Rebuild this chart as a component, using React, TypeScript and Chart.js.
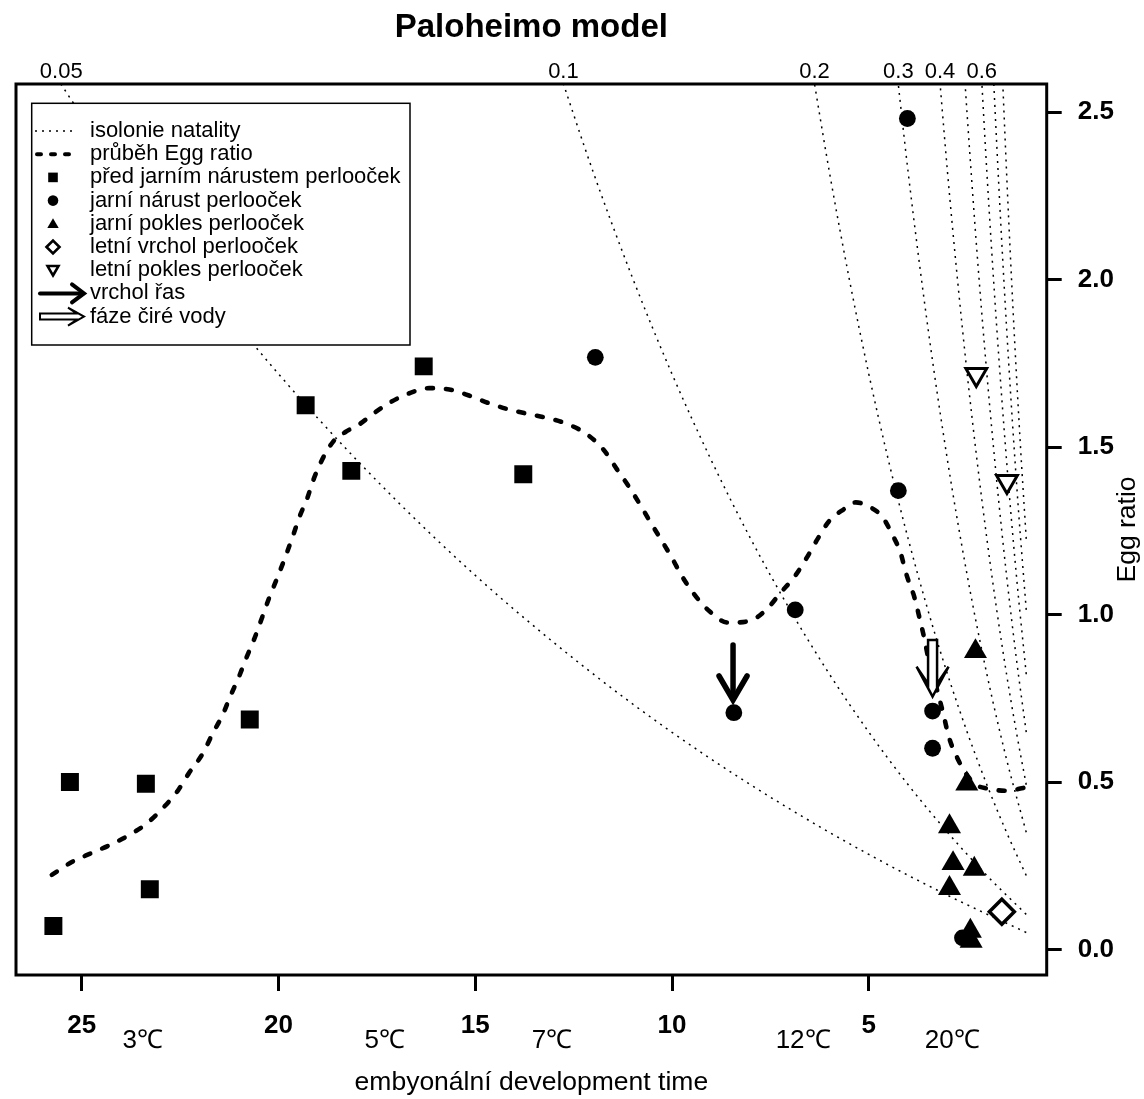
import { useEffect, useRef } from 'react';
import { Chart, registerables } from 'chart.js';

Chart.register(...registerables);

const FONT = "'Liberation Sans', Arial, Helvetica, sans-serif";

// ---- axes ----
const xTickValues = [25, 20, 15, 10, 5];
const yTickValues = [0, 0.5, 1, 1.5, 2, 2.5];
const xMin = 0.48;
const xMax = 26.67;
const yMin = -0.076;
const yMax = 2.584;

// labels of natality isolines (top edge) and temperature labels (bottom)
const topLabelText = ['0.05', '0.1', '0.2', '0.3', '0.4', '0.6'];
const topLabelD = [25.52, 12.76, 6.38, 4.25, 3.19, 2.13];
const tempLabelText = ['3℃', '5℃', '7℃', '12℃', '20℃'];
const tempLabelD = [23.45, 17.3, 13.05, 6.67, 2.88];

// ---- observations ----
const squareD = [25.72, 25.3, 23.37, 23.27, 20.73, 19.31, 18.15, 16.31, 13.78];
const squareE = [0.07, 0.5, 0.495, 0.18, 0.687, 1.625, 1.429, 1.741, 1.419];

const circleD = [11.95, 6.87, 8.43, 3.38, 3.38, 4.02, 4.25, 2.62];
const circleE = [1.768, 1.014, 0.707, 0.712, 0.601, 2.481, 1.37, 0.035];

const triUpD = [2.29, 2.51, 2.95, 2.86, 2.32, 2.95, 2.42, 2.4];
const triUpE = [0.89, 0.495, 0.367, 0.257, 0.24, 0.183, 0.055, 0.025];

const triDownD = [2.27, 1.49];
const triDownE = [1.717, 1.397];

const diamondD = [1.62];
const diamondE = [0.113];

// ---- Egg ratio course (dashed) ----
const trendD = [25.76, 25.24, 24.73, 24.25, 23.79, 23.34, 22.9, 22.56, 22.28, 21.92, 21.67, 21.42, 21.23, 21.02, 20.83, 20.62, 20.43, 20.24, 20.03, 19.84, 19.63, 19.46, 19.27, 19.12, 18.91, 18.62, 18.3, 17.96, 17.54, 17.14, 16.69, 16.17, 15.66, 15.16, 14.65, 14.14, 13.62, 13.13, 12.62, 12.16, 11.74, 11.39, 11.08, 10.8, 10.56, 10.29, 10.03, 9.75, 9.42, 9.04, 8.58, 8.03, 7.61, 7.25, 6.89, 6.55, 6.3, 6.01, 5.63, 5.33, 5.08, 4.66, 4.4, 4.19, 4.07, 3.96, 3.85, 3.73, 3.6, 3.47, 3.3, 3.1, 2.97, 2.76, 2.5, 2.25, 2.0, 1.53, 1.0];
const trendE = [0.223, 0.262, 0.289, 0.314, 0.342, 0.377, 0.427, 0.474, 0.526, 0.586, 0.646, 0.7, 0.755, 0.81, 0.867, 0.926, 0.987, 1.049, 1.11, 1.168, 1.236, 1.294, 1.347, 1.4, 1.458, 1.515, 1.545, 1.567, 1.604, 1.635, 1.66, 1.676, 1.672, 1.654, 1.631, 1.612, 1.598, 1.586, 1.567, 1.538, 1.492, 1.432, 1.379, 1.326, 1.278, 1.226, 1.175, 1.115, 1.058, 1.009, 0.976, 0.981, 1.014, 1.064, 1.113, 1.175, 1.226, 1.279, 1.315, 1.335, 1.327, 1.292, 1.238, 1.183, 1.13, 1.09, 1.055, 0.999, 0.934, 0.86, 0.79, 0.7, 0.636, 0.574, 0.52, 0.49, 0.481, 0.474, 0.484];

// ---- natality isolines ----
const isoRates = [0.05, 0.1, 0.2, 0.3, 0.4, 0.5, 0.6, 0.7, 0.8];
const iso005D = [1, 3, 5, 7, 9, 11, 13, 15, 17, 19, 21, 23, 25, 26];
const iso005E = [0.051, 0.162, 0.284, 0.419, 0.568, 0.733, 0.916, 1.117, 1.34, 1.586, 1.858, 2.158, 2.49, 2.669];
const iso01D = [1, 2, 3, 4, 5, 6, 7, 8, 9, 10, 11, 12, 13];
const iso01E = [0.105, 0.221, 0.35, 0.492, 0.649, 0.822, 1.014, 1.226, 1.46, 1.718, 2.004, 2.32, 2.669];
const iso02D = [1, 1.5, 2, 2.5, 3, 3.5, 4, 4.5, 5, 5.5, 6, 6.5];
const iso02E = [0.221, 0.35, 0.492, 0.649, 0.822, 1.014, 1.226, 1.46, 1.718, 2.004, 2.32, 2.669];
const iso03D = [1, 1.5, 2, 2.5, 3, 3.5, 4, 4.4];
const iso03E = [0.35, 0.568, 0.822, 1.117, 1.46, 1.858, 2.32, 2.743];
const iso04D = [1, 1.25, 1.5, 1.75, 2, 2.25, 2.5, 2.75, 3, 3.3];
const iso04E = [0.492, 0.649, 0.822, 1.014, 1.226, 1.46, 1.718, 2.004, 2.32, 2.743];
const iso05D = [1, 1.25, 1.5, 1.75, 2, 2.25, 2.5, 2.65];
const iso05E = [0.649, 0.868, 1.117, 1.399, 1.718, 2.08, 2.49, 2.762];
const iso06D = [1, 1.25, 1.5, 1.75, 2, 2.2];
const iso06E = [0.822, 1.117, 1.46, 1.858, 2.32, 2.743];
const iso07D = [1, 1.2, 1.4, 1.6, 1.8, 1.9];
const iso07E = [1.014, 1.316, 1.665, 2.065, 2.525, 2.781];
const iso08D = [1, 1.15, 1.3, 1.45, 1.6, 1.7];
const iso08E = [1.226, 1.509, 1.829, 2.19, 2.597, 2.896];
const isoD = [iso005D, iso01D, iso02D, iso03D, iso04D, iso05D, iso06D, iso07D, iso08D];
const isoE = [iso005E, iso01E, iso02E, iso03E, iso04E, iso05E, iso06E, iso07E, iso08E];

// ---- arrows (algae peak = solid, clear water phase = hollow) ----
const arrowD = [8.45, 3.38];
const arrowFromE = [0.909, 0.924];
const arrowToE = [0.745, 0.755];
const arrowHollow = [false, true];

const legendLabels = [
  'isolonie natality',
  'průběh Egg ratio',
  'před jarním nárustem perlooček',
  'jarní nárust perlooček',
  'jarní pokles perlooček',
  'letní vrchol perlooček',
  'letní pokles perlooček',
  'vrchol řas',
  'fáze čiré vody',
];

const pts = (xs: number[], ys: number[]) => xs.map((x, i) => ({ x, y: ys[i] }));

function triPath(ctx: CanvasRenderingContext2D, x: number, y: number, r: number, down: boolean) {
  const s = down ? -1 : 1;
  const h = (r * Math.sqrt(3)) / 2;
  ctx.beginPath();
  ctx.moveTo(x, y - s * r);
  ctx.lineTo(x + h, y + (s * r) / 2);
  ctx.lineTo(x - h, y + (s * r) / 2);
  ctx.closePath();
}

function drawArrow(
  ctx: CanvasRenderingContext2D,
  x1: number, y1: number, x2: number, y2: number,
  hollow: boolean,
  p: { lw: number; hl: number; hw: number; sw: number; hb: number }
) {
  const dx = x2 - x1, dy = y2 - y1;
  const len = Math.hypot(dx, dy);
  const ux = dx / len, uy = dy / len;
  const nx = -uy, ny = ux;
  const P = (a: number, c: number) => [x1 + ux * a + nx * c, y1 + uy * a + ny * c];
  ctx.save();
  ctx.strokeStyle = '#000';
  ctx.setLineDash([]);
  if (!hollow) {
    ctx.lineWidth = p.lw;
    ctx.lineCap = 'round';
    ctx.lineJoin = 'miter';
    ctx.beginPath();
    let q = P(0, 0); ctx.moveTo(q[0], q[1]);
    q = P(len - p.lw * 0.4, 0); ctx.lineTo(q[0], q[1]);
    ctx.stroke();
    ctx.beginPath();
    q = P(len - p.hl, -p.hw); ctx.moveTo(q[0], q[1]);
    q = P(len, 0); ctx.lineTo(q[0], q[1]);
    q = P(len - p.hl, p.hw); ctx.lineTo(q[0], q[1]);
    ctx.stroke();
  } else {
    ctx.lineWidth = p.lw;
    ctx.lineJoin = 'miter';
    ctx.fillStyle = '#fff';
    const poly = [
      P(0, -p.sw), P(len - p.hb, -p.sw), P(len - p.hl, -p.hw), P(len, 0),
      P(len - p.hl, p.hw), P(len - p.hb, p.sw), P(0, p.sw),
    ];
    ctx.beginPath();
    poly.forEach((q, i) => (i === 0 ? ctx.moveTo(q[0], q[1]) : ctx.lineTo(q[0], q[1])));
    ctx.closePath();
    ctx.fill();
    ctx.stroke();
  }
  ctx.restore();
}

const decorPlugin = {
  id: 'paloheimoDecor',
  afterDraw(chart: any) {
    const { ctx, chartArea: a, scales } = chart;
    const xs = scales.x;
    const ys = scales.y;
    ctx.save();

    // arrows in data space
    arrowD.forEach((d, i) => {
      const px = xs.getPixelForValue(d);
      drawArrow(ctx, px, ys.getPixelForValue(arrowFromE[i]), px, ys.getPixelForValue(arrowToE[i]), arrowHollow[i],
        arrowHollow[i] ? { lw: 2.5, hl: 30, hw: 16, sw: 4.5, hb: 13 } : { lw: 5.5, hl: 24, hw: 14, sw: 0, hb: 0 });
    });

    // frame
    ctx.lineWidth = 3;
    ctx.strokeStyle = '#000';
    ctx.setLineDash([]);
    ctx.strokeRect(a.left, a.top, a.right - a.left, a.bottom - a.top);

    // legend
    const L = { left: 31.7, top: 103.3, right: 410, bottom: 345 };
    ctx.fillStyle = '#fff';
    ctx.fillRect(L.left, L.top, L.right - L.left, L.bottom - L.top);
    ctx.lineWidth = 1.5;
    ctx.strokeStyle = '#000';
    ctx.strokeRect(L.left, L.top, L.right - L.left, L.bottom - L.top);
    const rowY = (i: number) => 131 + i * 23.2;
    const sx = 53;
    ctx.save();
    ctx.lineWidth = 1.4;
    ctx.setLineDash([2, 5]);
    ctx.beginPath(); ctx.moveTo(35, rowY(0)); ctx.lineTo(74, rowY(0)); ctx.stroke();
    ctx.lineWidth = 4;
    ctx.lineCap = 'round';
    ctx.setLineDash([4, 10]);
    ctx.beginPath(); ctx.moveTo(37, rowY(1)); ctx.lineTo(74, rowY(1)); ctx.stroke();
    ctx.restore();
    ctx.fillStyle = '#000';
    ctx.fillRect(sx - 4.8, rowY(2) - 4.8, 9.6, 9.6);
    ctx.beginPath(); ctx.arc(sx, rowY(3), 5.3, 0, Math.PI * 2); ctx.fill();
    triPath(ctx, sx, rowY(4) + 1, 6.6, false); ctx.fill();
    ctx.lineWidth = 2.6;
    ctx.beginPath();
    ctx.moveTo(sx - 6.5, rowY(5)); ctx.lineTo(sx, rowY(5) - 6.5); ctx.lineTo(sx + 6.5, rowY(5)); ctx.lineTo(sx, rowY(5) + 6.5);
    ctx.closePath(); ctx.stroke();
    triPath(ctx, sx, rowY(6) - 1, 6.3, true); ctx.stroke();
    drawArrow(ctx, 40, rowY(7), 84, rowY(7), false, { lw: 4, hl: 12, hw: 9, sw: 0, hb: 0 });
    drawArrow(ctx, 40, rowY(8), 84, rowY(8), true, { lw: 2, hl: 16, hw: 9, sw: 3, hb: 7 });
    ctx.fillStyle = '#000';
    ctx.font = `22px ${FONT}`;
    ctx.textAlign = 'left';
    ctx.textBaseline = 'middle';
    legendLabels.forEach((t, i) => ctx.fillText(t, 90, rowY(i)));

    // title
    const cx = (a.left + a.right) / 2;
    ctx.font = `bold 33px ${FONT}`;
    ctx.textAlign = 'center';
    ctx.textBaseline = 'alphabetic';
    ctx.fillText('Paloheimo model', cx, 37);

    // temperature labels
    ctx.font = `26px ${FONT}`;
    ctx.textBaseline = 'middle';
    tempLabelText.forEach((t, i) => ctx.fillText(t, xs.getPixelForValue(tempLabelD[i]), 1041));

    // x axis title
    ctx.font = `26.5px ${FONT}`;
    ctx.textBaseline = 'alphabetic';
    ctx.fillText('embyonální development time', cx, 1090);

    // y axis title (right side, reading upward)
    ctx.save();
    ctx.translate(1128, (a.top + a.bottom) / 2);
    ctx.rotate(-Math.PI / 2);
    ctx.textBaseline = 'middle';
    ctx.fillText('Egg ratio', 0, 0);
    ctx.restore();

    ctx.restore();
  },
};

export default function App() {
  const ref = useRef<HTMLCanvasElement>(null);
  useEffect(() => {
    const canvas = ref.current;
    if (!canvas) return;

    const isoSets = isoRates.map((r, k) => ({
      label: `b=${r}`,
      data: pts(isoD[k], isoE[k]),
      showLine: true,
      pointRadius: 0,
      borderColor: '#000',
      borderWidth: 1.5,
      borderDash: [2, 5],
      cubicInterpolationMode: 'monotone',
      clip: 0,
      order: 3,
    }));

    const chart = new Chart(canvas, {
      type: 'scatter',
      data: {
        datasets: [
          { label: 'squares', data: pts(squareD, squareE), pointStyle: 'rect', pointRadius: 12.7, backgroundColor: '#000', borderColor: '#000', borderWidth: 0, order: 0 },
          { label: 'circles', data: pts(circleD, circleE), pointStyle: 'circle', pointRadius: 8.4, backgroundColor: '#000', borderColor: '#000', borderWidth: 0, order: 0 },
          { label: 'triUp', data: pts(triUpD, triUpE), pointStyle: 'triangle', pointRadius: 13.3, backgroundColor: '#000', borderColor: '#000', borderWidth: 0, order: 0 },
          { label: 'triDown', data: pts(triDownD, triDownE), pointStyle: 'triangle', pointRotation: 180, pointRadius: 12, backgroundColor: '#fff', borderColor: '#000', borderWidth: 3, order: 0 },
          { label: 'diamond', data: pts(diamondD, diamondE), pointStyle: 'rectRot', pointRadius: 12.5, backgroundColor: '#fff', borderColor: '#000', borderWidth: 3.5, order: 0 },
          {
            label: 'trend', data: pts(trendD, trendE), showLine: true, pointRadius: 0, borderColor: '#000', borderWidth: 4.6,
            borderDash: [6, 13], borderCapStyle: 'round', cubicInterpolationMode: 'monotone', clip: 0, order: 1,
          },
          ...isoSets,
        ] as any,
      },
      options: {
        animation: false,
        responsive: false,
        devicePixelRatio: 1,
        events: [],
        layout: { padding: { left: 11.7, top: 44, right: 0, bottom: 0 } },
        plugins: { legend: { display: false }, tooltip: { enabled: false }, title: { display: false } },
        scales: {
          x: {
            type: 'linear', position: 'bottom', reverse: true, min: xMin, max: xMax,
            border: { display: false },
            grid: { drawOnChartArea: false, drawTicks: true, tickLength: 16, tickWidth: 3, tickColor: '#000' },
            ticks: {
              autoSkip: false, maxRotation: 0, padding: 19, color: '#000',
              font: { family: FONT, size: 26, weight: 'bold' },
              callback: (v: any) => String(v),
            },
            afterBuildTicks: (s: any) => { s.ticks = xTickValues.map((v) => ({ value: v })); },
            afterFit: (s: any) => { s.height = 124; },
          },
          x2: {
            type: 'linear', position: 'top', reverse: true, min: xMin, max: xMax,
            border: { display: false },
            grid: { display: false, drawTicks: false },
            ticks: {
              autoSkip: false, maxRotation: 0, padding: 1, color: '#000',
              font: { family: FONT, size: 22, lineHeight: 1 },
              callback: (_v: any, i: number) => topLabelText[i] ?? '',
            },
            afterBuildTicks: (s: any) => { s.ticks = topLabelD.map((v) => ({ value: v })); },
            afterFit: (s: any) => { s.height = 40; },
          },
          y: {
            type: 'linear', position: 'right', min: yMin, max: yMax,
            border: { display: false },
            grid: { drawOnChartArea: false, drawTicks: true, tickLength: 15, tickWidth: 3, tickColor: '#000' },
            ticks: {
              autoSkip: false, padding: 16, color: '#000',
              font: { family: FONT, size: 26, weight: 'bold' },
              callback: (v: any) => Number(v).toFixed(1),
            },
            afterBuildTicks: (s: any) => { s.ticks = yTickValues.map((v) => ({ value: v })); },
            afterFit: (s: any) => { s.width = 97.3; },
          },
        },
      } as any,
      plugins: [decorPlugin],
    });
    return () => chart.destroy();
  }, []);

  return (
    <div style={{ position: 'absolute', left: 0, top: 0, width: 1144, height: 1099, background: '#fff' }}>
      <canvas ref={ref} width={1144} height={1099} style={{ display: 'block' }} />
    </div>
  );
}
